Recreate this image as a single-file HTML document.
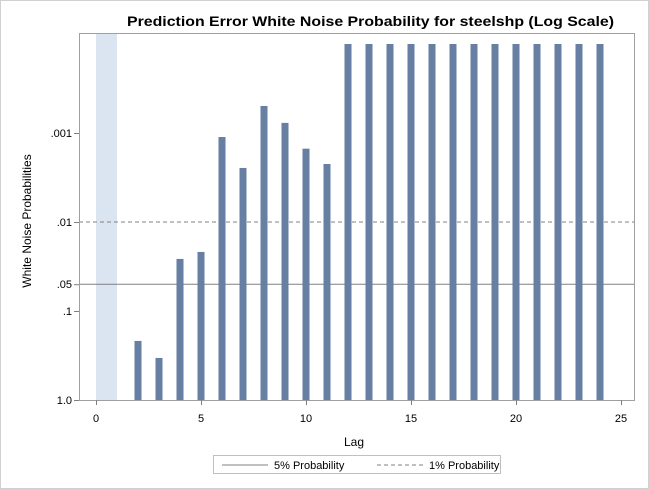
<!DOCTYPE html>
<html><head><meta charset="utf-8"><style>
body{margin:0;background:#fff}
svg{display:block;font-family:"Liberation Sans",Arial,sans-serif}
</style></head><body>
<svg id="chart" width="649" height="489">
<rect x="0.5" y="0.5" width="648" height="488" fill="#fff" stroke="#d0d0d0"/>
<text x="127" y="26" textLength="487" lengthAdjust="spacingAndGlyphs" font-size="14" font-weight="bold" fill="#000">Prediction Error White Noise Probability for steelshp (Log Scale)</text>
<g id="plot"></g>
<text x="354" y="446" text-anchor="middle" font-size="12" fill="#000">Lag</text>
<text transform="translate(31,221) rotate(-90)" text-anchor="middle" font-size="12" fill="#000">White Noise Probabilities</text>
<g>
<rect x="213.5" y="455.5" width="287" height="18" fill="#fff" stroke="#c0c0c0"/>
<line x1="222" y1="465" x2="268" y2="465" stroke="#808080"/>
<text x="274" y="469" font-size="11">5% Probability</text>
<line x1="377" y1="465" x2="423" y2="465" stroke="#808080" stroke-dasharray="4,3"/>
<text x="429" y="469" font-size="11">1% Probability</text>
</g>
</svg>
<script>
const lags=[2,3,4,5,6,7,8,9,10,11,12,13,14,15,16,17,18,19,20,21,22,23,24];
const probs=[0.217,0.337,0.026,0.0217,0.00111,0.00247,0.000497,0.00077,0.0015,0.00223,0.0001,0.0001,0.0001,0.0001,0.0001,0.0001,0.0001,0.0001,0.0001,0.0001,0.0001,0.0001,0.0001];
const xTicks=[0,5,10,15,20,25];
const yTicks=[1.0,0.1,0.05,0.01,0.001];
const yTickLabels=["1.0",".1",".05",".01",".001"];
const sigLines=[0.05,0.01];

const NS='http://www.w3.org/2000/svg';
const g=document.getElementById('plot');
const L=79,R=634,T=33,B=400;
const x=v=>96+v*21;
const y=p=>400+Math.log10(p)*89;
function mk(t,a){const e=document.createElementNS(NS,t);for(const k in a)e.setAttribute(k,a[k]);g.appendChild(e);return e;}
let band=mk('rect',{x:x(0),y:T,width:x(1)-x(0),height:B-T,fill:'#dbe5f1'});


sigLines.forEach((p,i)=>{
 let l=mk('line',{x1:L,x2:R,y1:y(p),y2:y(p),stroke:'#808080','stroke-width':1});
 if(i===1)l.setAttribute('stroke-dasharray','4,3');
 
 
});
lags.forEach((lag,i)=>{
 const top=Math.max(y(probs[i]),44);
 let r=mk('rect',{x:x(lag)-3.5,y:top,width:7,height:B-top,fill:'#667fa2'});
 
 
});
let fr=mk('rect',{x:L+0.5,y:T+0.5,width:R-L,height:B-T,fill:'none',stroke:'#a0a0a0'});


xTicks.forEach(v=>{
 let t=mk('line',{x1:x(v)+0.5,x2:x(v)+0.5,y1:B,y2:B+5,stroke:'#808080'});
 
 
 let tx=mk('text',{x:x(v),y:B+22,'text-anchor':'middle','font-size':11});
 tx.textContent=v;
 
 
});
yTicks.forEach((v,i)=>{
 let t=mk('line',{x1:L-5,x2:L,y1:y(v)+0.5,y2:y(v)+0.5,stroke:'#808080'});
 
 
 let tx=mk('text',{x:L-7,y:y(v)+4,'text-anchor':'end','font-size':11});
 tx.textContent=yTickLabels[i];
 
 
});
</script>
</body></html>
